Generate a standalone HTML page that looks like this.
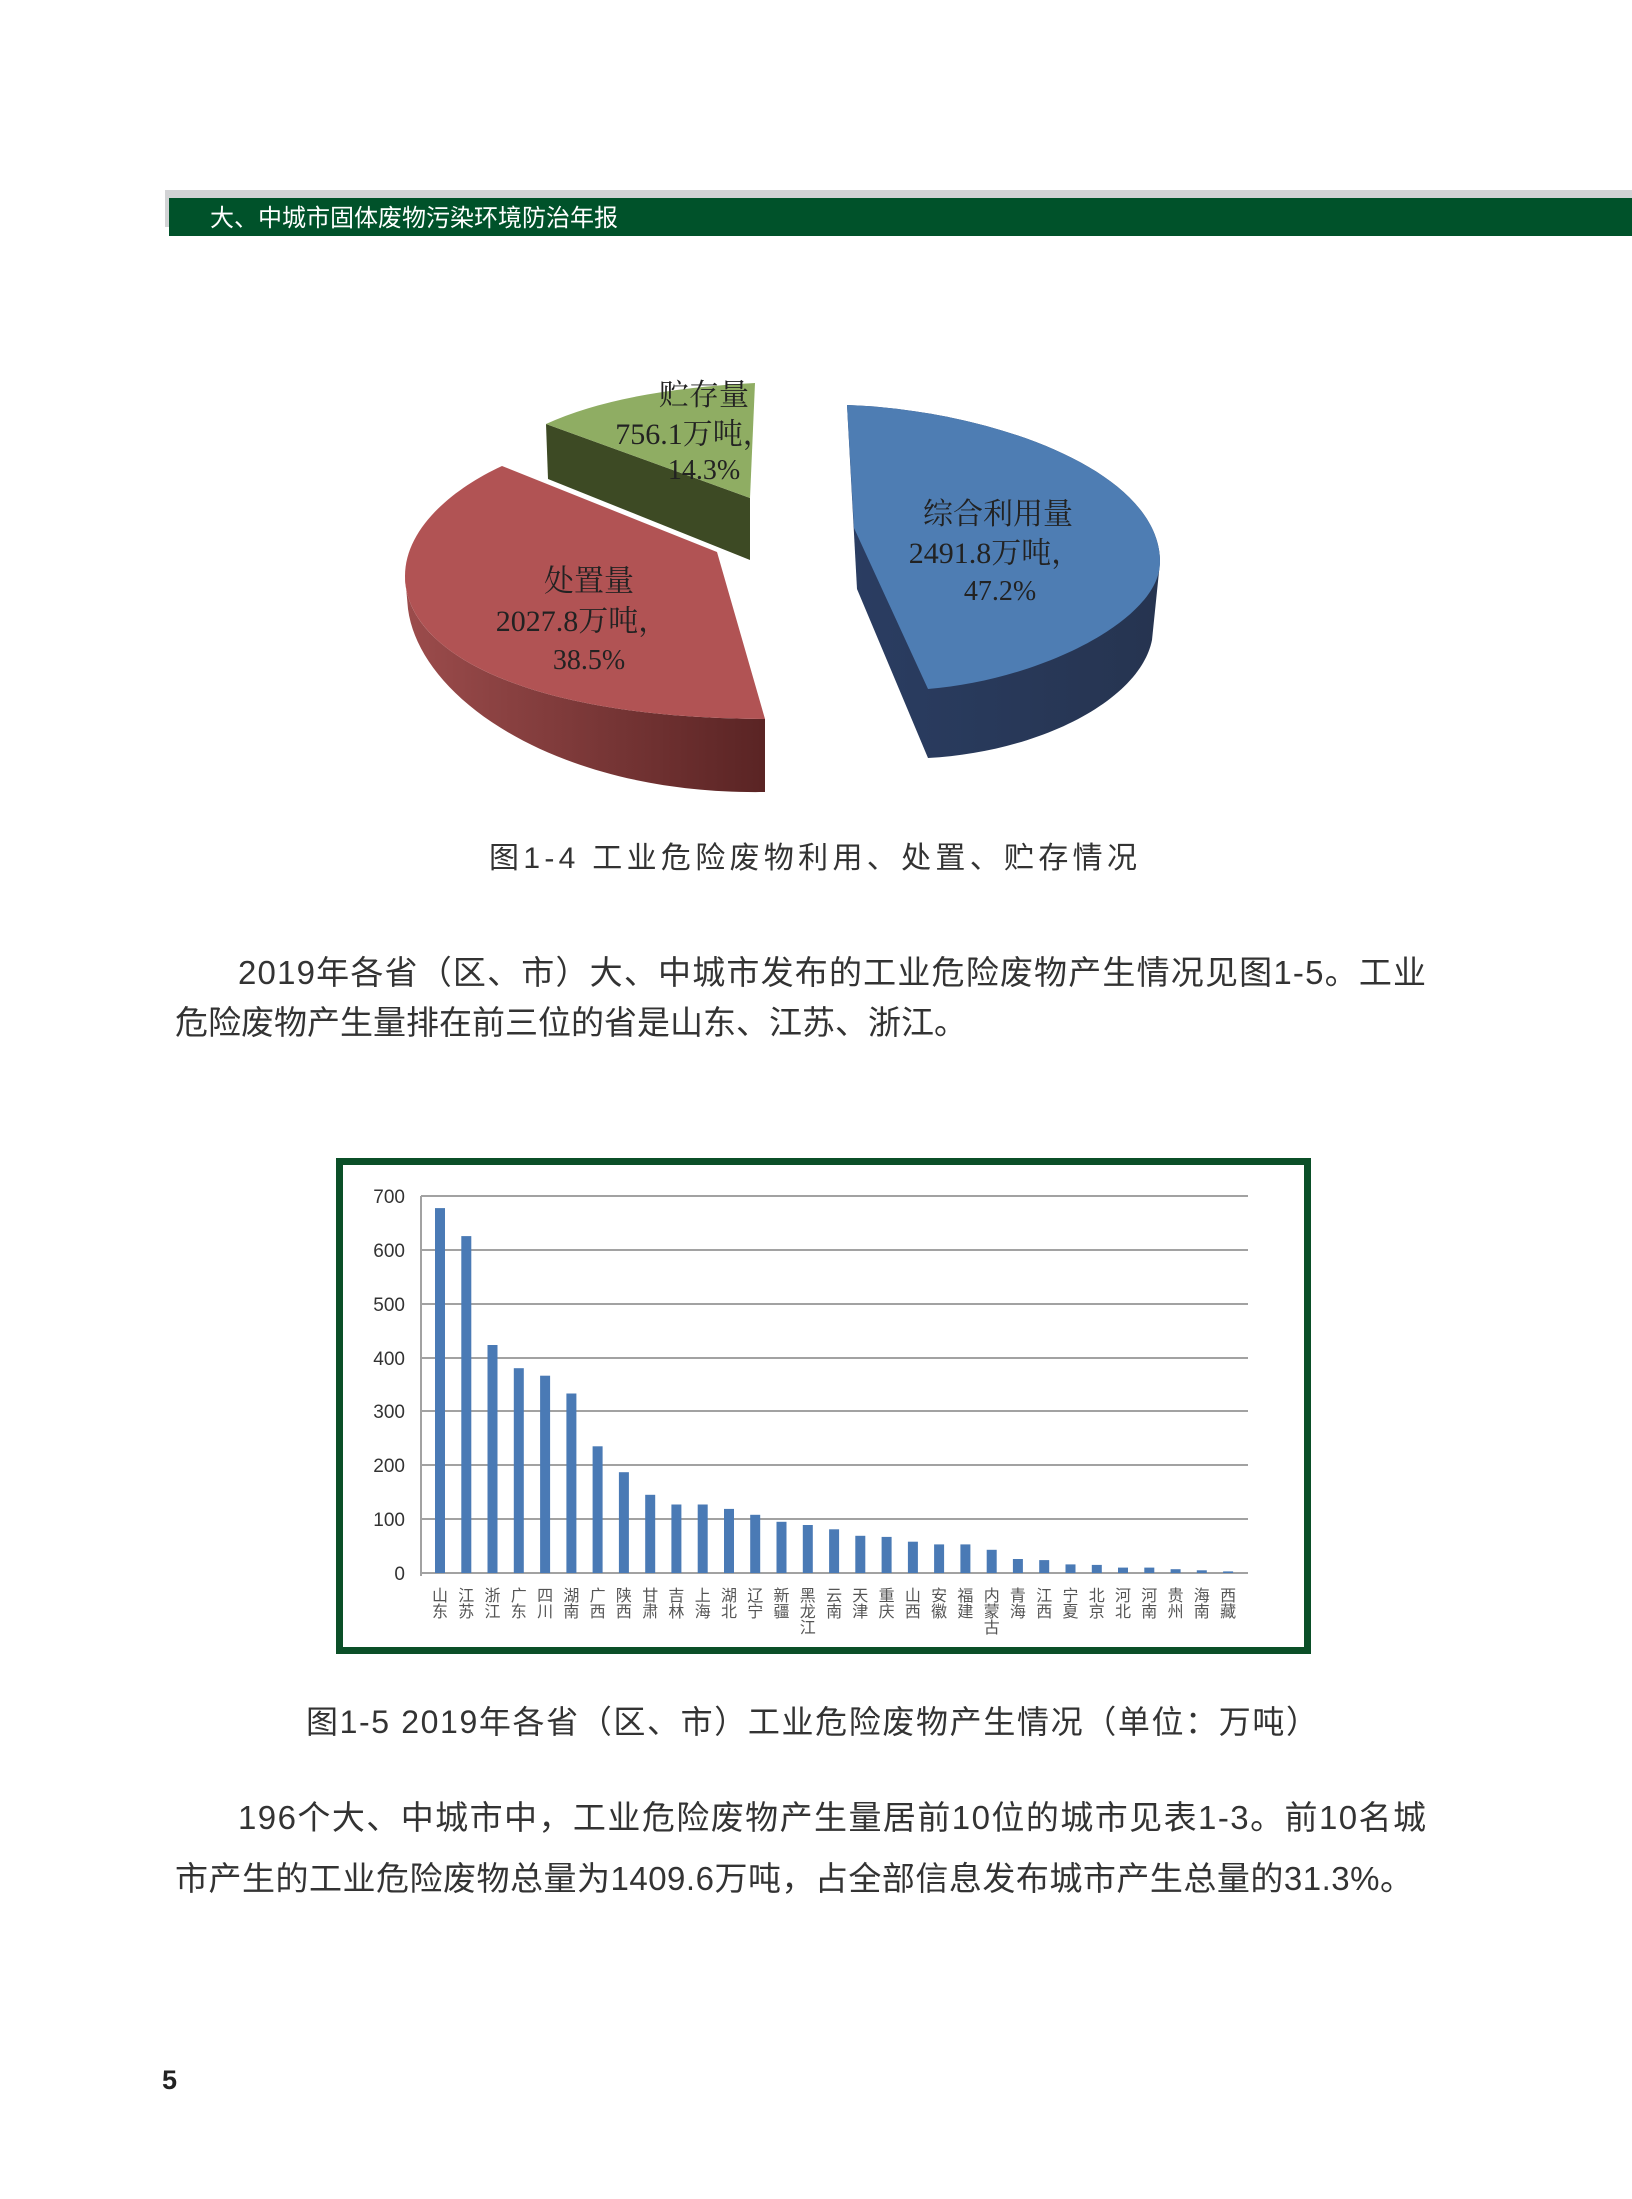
<!DOCTYPE html>
<html><head><meta charset="utf-8"><style>
html,body{margin:0;padding:0;background:#fff;}
svg{display:block;}
.s{font-family:"Liberation Sans","Noto Sans CJK SC",sans-serif;}
.f{font-family:"Liberation Serif","Noto Serif CJK SC",serif;fill:#222;}
</style></head><body>
<svg width="1632" height="2199" viewBox="0 0 1632 2199" xmlns="http://www.w3.org/2000/svg">
<defs>
<linearGradient id="rg" x1="0" x2="1" y1="0" y2="0"><stop offset="0" stop-color="#9c4c4c"/><stop offset="1" stop-color="#5a2424"/></linearGradient>
<linearGradient id="bg" x1="0" x2="1" y1="0" y2="0"><stop offset="0" stop-color="#2a3d62"/><stop offset="1" stop-color="#263450"/></linearGradient>
</defs>
<rect x="165" y="190" width="1467" height="8" fill="#d2d3d5"/>
<rect x="165" y="190" width="10" height="37" fill="#d2d3d5"/>
<rect x="169" y="198" width="1463" height="38" fill="#00522a"/>
<text x="210" y="226" class="s" font-size="24" fill="#fff">大、中城市固体废物污染环境防治年报</text>

<path d="M546,424 L750,498 L750,560 L548,479 Z" fill="#3d4a24"/>
<path d="M546,424 Q620,390 755,383 L750,498 Z" fill="#8fad63"/>
<path d="M405,576 C405,650 520,718 765,719 L765,792 C560,795 420,700 408,609 Z" fill="url(#rg)"/>
<path d="M717,552 L502,466 C450,490 405,530 405,576 C405,650 520,718 765,719 Z" fill="#b15354"/>
<path d="M847,405 C990,410 1160,470 1160,562 L1152,640 C1140,700 1040,752 928,758 L857,589 Z" fill="url(#bg)"/>
<path d="M847,405 C990,410 1160,470 1160,562 C1160,620 1040,680 928,689 L854,528 Z" fill="#4e7db3"/>

<g class="f" font-size="30" text-anchor="middle">
<text x="704" y="405">贮存量</text>
<text x="694" y="444">756.1万吨，</text>
<text x="704" y="479" font-size="28">14.3%</text>
<text x="998" y="524">综合利用量</text>
<text x="995" y="563">2491.8万吨，</text>
<text x="1000" y="600" font-size="28">47.2%</text>
<text x="589" y="591">处置量</text>
<text x="582" y="631">2027.8万吨，</text>
<text x="589" y="669" font-size="28">38.5%</text>
</g>

<text x="489" y="868" class="s" font-size="30" fill="#333" textLength="648" lengthAdjust="spacing">图1-4  工业危险废物利用、处置、贮存情况</text>

<g class="s" font-size="33" fill="#333">
<text x="238" y="984" textLength="1188" lengthAdjust="spacing">2019年各省（区、市）大、中城市发布的工业危险废物产生情况见图1-5。工业</text>
<text x="175" y="1034">危险废物产生量排在前三位的省是山东、江苏、浙江。</text>
</g>

<rect x="339.5" y="1161.5" width="968" height="489" fill="#fff" stroke="#0b4f28" stroke-width="7"/>
<g stroke="#a2a2a2" stroke-width="2">
<line x1="421" y1="1196" x2="1248" y2="1196"/>
<line x1="421" y1="1250" x2="1248" y2="1250"/>
<line x1="421" y1="1304" x2="1248" y2="1304"/>
<line x1="421" y1="1358" x2="1248" y2="1358"/>
<line x1="421" y1="1411" x2="1248" y2="1411"/>
<line x1="421" y1="1465" x2="1248" y2="1465"/>
<line x1="421" y1="1519" x2="1248" y2="1519"/>
<line x1="421" y1="1573" x2="1248" y2="1573"/>
<line x1="421" y1="1196" x2="421" y2="1576"/>
</g>
<g class="s" font-size="19" fill="#333" text-anchor="end">
<text x="405" y="1203">700</text><text x="405" y="1257">600</text><text x="405" y="1311">500</text><text x="405" y="1365">400</text><text x="405" y="1418">300</text><text x="405" y="1472">200</text><text x="405" y="1526">100</text><text x="405" y="1580">0</text>
</g>
<g fill="#4a7ab5">
<rect x="435" y="1208.1" width="10" height="364.9"/>
<rect x="461.3" y="1236.1" width="10" height="336.9"/>
<rect x="487.5" y="1345" width="10" height="228"/>
<rect x="513.8" y="1368.2" width="10" height="204.8"/>
<rect x="540.1" y="1375.7" width="10" height="197.3"/>
<rect x="566.4" y="1393.5" width="10" height="179.5"/>
<rect x="592.6" y="1446.3" width="10" height="126.7"/>
<rect x="618.9" y="1472.2" width="10" height="100.8"/>
<rect x="645.2" y="1494.8" width="10" height="78.2"/>
<rect x="671.4" y="1504.5" width="10" height="68.5"/>
<rect x="697.7" y="1504.5" width="10" height="68.5"/>
<rect x="724" y="1508.9" width="10" height="64.1"/>
<rect x="750.2" y="1514.8" width="10" height="58.2"/>
<rect x="776.5" y="1521.8" width="10" height="51.2"/>
<rect x="802.8" y="1525" width="10" height="48"/>
<rect x="829.1" y="1529.3" width="10" height="43.7"/>
<rect x="855.3" y="1535.8" width="10" height="37.2"/>
<rect x="881.6" y="1536.9" width="10" height="36.1"/>
<rect x="907.9" y="1541.7" width="10" height="31.3"/>
<rect x="934.1" y="1544.4" width="10" height="28.6"/>
<rect x="960.4" y="1544.4" width="10" height="28.6"/>
<rect x="986.7" y="1549.8" width="10" height="23.2"/>
<rect x="1012.9" y="1559" width="10" height="14"/>
<rect x="1039.2" y="1560.1" width="10" height="12.9"/>
<rect x="1065.5" y="1564.4" width="10" height="8.6"/>
<rect x="1091.8" y="1564.9" width="10" height="8.1"/>
<rect x="1118" y="1567.6" width="10" height="5.4"/>
<rect x="1144.3" y="1567.6" width="10" height="5.4"/>
<rect x="1170.6" y="1569.2" width="10" height="3.8"/>
<rect x="1196.8" y="1570.3" width="10" height="2.7"/>
<rect x="1223.1" y="1571.4" width="10" height="1.6"/>
</g>
<g class="s" font-size="16" fill="#555" text-anchor="middle">
<text x="440" y="1601">山</text><text x="440" y="1617">东</text>
<text x="466.3" y="1601">江</text><text x="466.3" y="1617">苏</text>
<text x="492.5" y="1601">浙</text><text x="492.5" y="1617">江</text>
<text x="518.8" y="1601">广</text><text x="518.8" y="1617">东</text>
<text x="545.1" y="1601">四</text><text x="545.1" y="1617">川</text>
<text x="571.4" y="1601">湖</text><text x="571.4" y="1617">南</text>
<text x="597.6" y="1601">广</text><text x="597.6" y="1617">西</text>
<text x="623.9" y="1601">陕</text><text x="623.9" y="1617">西</text>
<text x="650.2" y="1601">甘</text><text x="650.2" y="1617">肃</text>
<text x="676.4" y="1601">吉</text><text x="676.4" y="1617">林</text>
<text x="702.7" y="1601">上</text><text x="702.7" y="1617">海</text>
<text x="729" y="1601">湖</text><text x="729" y="1617">北</text>
<text x="755.2" y="1601">辽</text><text x="755.2" y="1617">宁</text>
<text x="781.5" y="1601">新</text><text x="781.5" y="1617">疆</text>
<text x="807.8" y="1601">黑</text><text x="807.8" y="1617">龙</text><text x="807.8" y="1633">江</text>
<text x="834.1" y="1601">云</text><text x="834.1" y="1617">南</text>
<text x="860.3" y="1601">天</text><text x="860.3" y="1617">津</text>
<text x="886.6" y="1601">重</text><text x="886.6" y="1617">庆</text>
<text x="912.9" y="1601">山</text><text x="912.9" y="1617">西</text>
<text x="939.1" y="1601">安</text><text x="939.1" y="1617">徽</text>
<text x="965.4" y="1601">福</text><text x="965.4" y="1617">建</text>
<text x="991.7" y="1601">内</text><text x="991.7" y="1617">蒙</text><text x="991.7" y="1633">古</text>
<text x="1017.9" y="1601">青</text><text x="1017.9" y="1617">海</text>
<text x="1044.2" y="1601">江</text><text x="1044.2" y="1617">西</text>
<text x="1070.5" y="1601">宁</text><text x="1070.5" y="1617">夏</text>
<text x="1096.8" y="1601">北</text><text x="1096.8" y="1617">京</text>
<text x="1123" y="1601">河</text><text x="1123" y="1617">北</text>
<text x="1149.3" y="1601">河</text><text x="1149.3" y="1617">南</text>
<text x="1175.6" y="1601">贵</text><text x="1175.6" y="1617">州</text>
<text x="1201.8" y="1601">海</text><text x="1201.8" y="1617">南</text>
<text x="1228.1" y="1601">西</text><text x="1228.1" y="1617">藏</text>
</g>

<text x="306" y="1733" class="s" font-size="32" fill="#333" textLength="1012" lengthAdjust="spacing">图1-5 2019年各省（区、市）工业危险废物产生情况（单位：万吨）</text>

<g class="s" font-size="33" fill="#333">
<text x="238" y="1829" textLength="1188" lengthAdjust="spacing">196个大、中城市中，工业危险废物产生量居前10位的城市见表1-3。前10名城</text>
<text x="175" y="1890" textLength="1238" lengthAdjust="spacing">市产生的工业危险废物总量为1409.6万吨，占全部信息发布城市产生总量的31.3%。</text>
</g>

<text x="162" y="2089" class="s" font-size="27" font-weight="bold" fill="#222">5</text>
</svg>
</body></html>
